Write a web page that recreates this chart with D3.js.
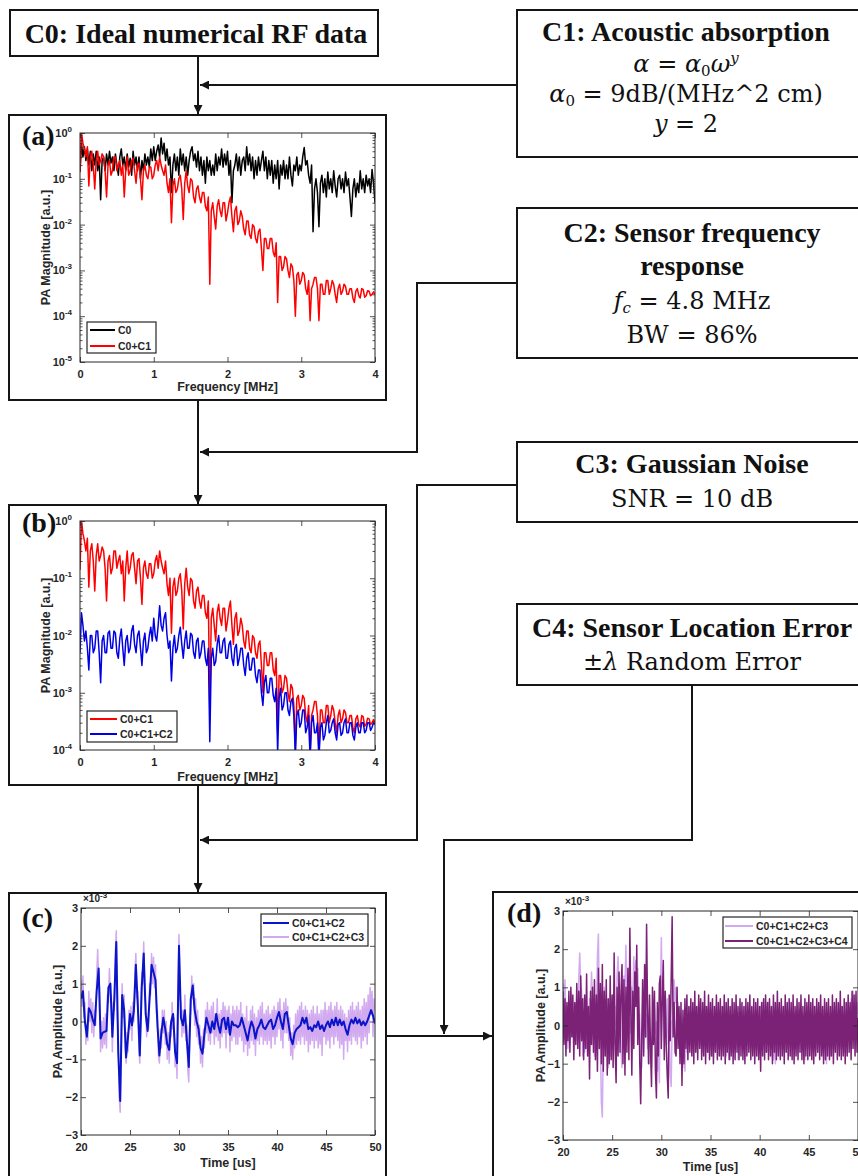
<!DOCTYPE html>
<html>
<head>
<meta charset="utf-8">
<script src="https://cdn.jsdelivr.net/npm/d3@7"></script>
<style>
  body { margin: 0; background: #fff; }
  svg { display: block; }
  .serif { font-family: "Liberation Serif", "Times New Roman", serif; font-size: 28px; fill: #111; }
  .math { font-family: "DejaVu Serif", serif; font-size: 24px; fill: #111; }
  .plot-text { font-family: "Liberation Sans", Arial, sans-serif; font-weight: bold; fill: #262626; }
  .tick text { font-family: "Liberation Sans", Arial, sans-serif; font-weight: bold; font-size: 11px; fill: #262626; }
  .tick line { stroke: #262626; stroke-width: 0.8; }
</style>
</head>
<body>
<svg id="fig" width="858" height="1176"></svg>
<script>
"use strict";

// spectra, 0 to 4 MHz, one sample every 0.02 MHz
const freqStep = 0.02;

const specC0 = [
  0.14, 0.6, 0.3, 0.5, 0.25, 0.45, 0.2, 0.4, 0.15, 0.35,
  0.2, 0.4, 0.15, 0.3, 0.035, 0.25, 0.3, 0.15, 0.35, 0.2,
  0.4, 0.22, 0.3, 0.15, 0.35, 0.2, 0.12, 0.3, 0.45, 0.2,
  0.3, 0.15, 0.35, 0.18, 0.28, 0.12, 0.4, 0.2, 0.3, 0.15,
  0.3, 0.1, 0.25, 0.15, 0.35, 0.2, 0.3, 0.18, 0.45, 0.25,
  0.5, 0.25, 0.4, 0.55, 0.3, 0.78, 0.35, 0.6, 0.25, 0.45,
  0.2, 0.3, 0.05, 0.2, 0.35, 0.15, 0.3, 0.12, 0.45, 0.2,
  0.35, 0.15, 0.3, 0.12, 0.25, 0.4, 0.5, 0.25, 0.35, 0.18,
  0.4, 0.15, 0.3, 0.12, 0.25, 0.08, 0.3, 0.15, 0.25, 0.12,
  0.2, 0.12, 0.35, 0.15, 0.3, 0.2, 0.45, 0.18, 0.35, 0.2,
  0.4, 0.12, 0.25, 0.03, 0.15, 0.2, 0.35, 0.15, 0.3, 0.12,
  0.25, 0.3, 0.15, 0.5, 0.2, 0.35, 0.15, 0.3, 0.1, 0.25,
  0.12, 0.3, 0.15, 0.25, 0.4, 0.15, 0.3, 0.1, 0.25, 0.12,
  0.25, 0.08, 0.2, 0.1, 0.25, 0.06, 0.2, 0.12, 0.25, 0.1,
  0.2, 0.1, 0.3, 0.12, 0.07, 0.2, 0.15, 0.3, 0.12, 0.2,
  0.15, 0.3, 0.48, 0.2, 0.25, 0.12, 0.08, 0.2, 0.007, 0.06,
  0.1, 0.05, 0.009, 0.08, 0.12, 0.05, 0.1, 0.04, 0.14, 0.06,
  0.1, 0.05, 0.15, 0.07, 0.04, 0.1, 0.12, 0.06, 0.1, 0.05,
  0.14, 0.07, 0.1, 0.04, 0.015, 0.06, 0.1, 0.04, 0.08, 0.05,
  0.15, 0.06, 0.1, 0.05, 0.12, 0.07, 0.1, 0.05, 0.16, 0.08,
  0.03,
];

const specC0C1 = [
  0.14, 1.0, 0.6, 0.45, 0.3, 0.5, 0.07, 0.3, 0.4, 0.2,
  0.06, 0.25, 0.4, 0.2, 0.25, 0.35, 0.3, 0.15, 0.04, 0.2,
  0.25, 0.12, 0.15, 0.3, 0.3, 0.15, 0.2, 0.25, 0.12, 0.2,
  0.04, 0.15, 0.3, 0.12, 0.15, 0.25, 0.28, 0.15, 0.08, 0.2,
  0.22, 0.1, 0.035, 0.15, 0.2, 0.12, 0.1, 0.18, 0.18, 0.1,
  0.12, 0.2, 0.25, 0.15, 0.3, 0.2, 0.15, 0.12, 0.2, 0.08,
  0.05, 0.1, 0.011, 0.07, 0.1, 0.05, 0.06, 0.1, 0.12, 0.06,
  0.013, 0.08, 0.15, 0.07, 0.05, 0.1, 0.09, 0.04, 0.03, 0.06,
  0.07, 0.04, 0.03, 0.05, 0.05, 0.025, 0.02, 0.04, 0.0005, 0.02,
  0.03, 0.015, 0.008, 0.025, 0.035, 0.02, 0.015, 0.03, 0.03, 0.012,
  0.018, 0.03, 0.04, 0.015, 0.007, 0.02, 0.025, 0.01, 0.012, 0.02,
  0.015, 0.008, 0.006, 0.012, 0.012, 0.006, 0.005, 0.01, 0.009, 0.005,
  0.004, 0.007, 0.008, 0.003, 0.001, 0.005, 0.005, 0.003, 0.003, 0.005,
  0.005, 0.0025, 0.002, 0.004, 0.0002, 0.002, 0.002, 0.001, 0.0012, 0.002,
  0.0018, 0.001, 0.0007, 0.0014, 0.0012, 0.0006, 0.0001, 0.0008, 0.0009, 0.0005,
  0.0006, 0.0009, 0.0008, 0.0004, 0.0003, 0.0006, 0.00008, 0.0004, 0.0005, 0.0007,
  0.0007, 0.0004, 0.00008, 0.0005, 0.0005, 0.0003, 0.0003, 0.0006, 0.0006, 0.0003,
  0.0004, 0.0006, 0.0005, 0.0003, 0.0002, 0.0004, 0.0005, 0.0003, 0.00035, 0.0005,
  0.00045, 0.0003, 0.0003, 0.0004, 0.0004, 0.00025, 0.0002, 0.00035, 0.0004, 0.00028,
  0.00025, 0.0004, 0.00038, 0.00026, 0.00028, 0.00036, 0.00035, 0.00028, 0.0003, 0.00034,
  0.0003,
];

const specC0C1C2 = [
  0.005, 0.025, 0.015, 0.008, 0.012, 0.006, 0.0025, 0.01, 0.01, 0.005,
  0.006, 0.012, 0.012, 0.005, 0.0015, 0.008, 0.01, 0.005, 0.005, 0.011,
  0.012, 0.006, 0.006, 0.012, 0.011, 0.005, 0.004, 0.009, 0.013, 0.006,
  0.003, 0.008, 0.01, 0.005, 0.006, 0.012, 0.015, 0.007, 0.005, 0.01,
  0.012, 0.006, 0.003, 0.008, 0.011, 0.005, 0.006, 0.01, 0.014, 0.008,
  0.02, 0.01, 0.008, 0.015, 0.033, 0.015, 0.012, 0.02, 0.025, 0.01,
  0.006, 0.008, 0.0016, 0.006, 0.01, 0.005, 0.006, 0.01, 0.014, 0.007,
  0.004, 0.008, 0.012, 0.006, 0.006, 0.011, 0.01, 0.005, 0.004, 0.008,
  0.009, 0.004, 0.005, 0.008, 0.008, 0.004, 0.003, 0.006, 0.00014, 0.004,
  0.006, 0.003, 0.0035, 0.007, 0.01, 0.005, 0.005, 0.008, 0.009, 0.004,
  0.004, 0.007, 0.008, 0.004, 0.003, 0.006, 0.007, 0.003, 0.004, 0.006,
  0.006, 0.003, 0.002, 0.004, 0.005, 0.0025, 0.0025, 0.004, 0.004, 0.002,
  0.0015, 0.0025, 0.0025, 0.001, 0.0006, 0.0015, 0.002, 0.001, 0.001, 0.0018,
  0.0018, 0.0009, 0.0007, 0.0012, 0.00009, 0.0008, 0.0012, 0.0005, 0.0006, 0.001,
  0.001, 0.0005, 0.0004, 0.0007, 0.0008, 0.0004, 0.00008, 0.0004, 0.0005, 0.00025,
  0.0003, 0.0005, 0.0005, 0.0002, 0.00025, 0.0004, 0.00007, 0.0003, 0.0004, 0.0002,
  0.0002, 0.0003, 0.00007, 0.00025, 0.0003, 0.00015, 0.00018, 0.0003, 0.0004, 0.0002,
  0.00022, 0.0003, 0.00035, 0.0002, 0.00015, 0.00028, 0.0003, 0.00018, 0.0002, 0.0003,
  0.00035, 0.0002, 0.0002, 0.0003, 0.0003, 0.00018, 0.00015, 0.00025, 0.0003, 0.0002,
  0.0002, 0.0003, 0.0003, 0.0002, 0.00022, 0.0003, 0.0003, 0.00022, 0.00025, 0.0003,
  0.00028,
];

// time traces from 20 us, values in units of 1e-3
const timeStart = 20;
const cleanStep = 0.2; // us between samples of the filtered trace
const noisyStep = 0.1; // us between samples of the noisy traces

const sigC0C1C2 = [
  0.6, 0.8, 0.0, -0.4, 0.35, 0.25, 0.05, -0.1, 0.8, 1.4,
  -0.45, -0.3, -0.27, -0.25, 0.9, 1.0, -0.4, 0.6, 2.1, -0.8,
  -2.1, 0.7, 0.3, -0.95, -0.4, 0.2, -0.1, 0.3, 1.5, 0.4,
  -0.9, 0.9, 1.8, 0.2, -0.25, 0.6, 1.5, 1.3, 1.1, -0.1,
  -0.9, -0.3, 0.1, -0.2, -0.6, -0.75, 0.0, 0.2, -0.8, -1.1,
  2.0, 0.1, -0.1, 0.3, -0.5, -1.2, 0.6, 0.95, 0.3, 0.0,
  -0.2, -0.7, -0.85, -0.3, 0.1, -0.1, -0.3, 0.0, -0.2, 0.2,
  -0.1, -0.3, 0.05, 0.1, -0.2, 0.1, -0.35, 0.0, -0.1, -0.1,
  -0.15, -0.1, 0.1, -0.1, -0.3, -0.5, -0.2, 0.0, -0.15, -0.45,
  -0.2, -0.1, 0.05, -0.15, -0.2, -0.1, 0.0, 0.05, -0.2, -0.1,
  0.1, 0.25, 0.0, -0.2, 0.2, 0.25, -0.1, -0.45, -0.6, -0.3,
  -0.2, -0.15, -0.1, 0.1, -0.05, 0.1, -0.2, -0.15, -0.25, -0.1,
  -0.15, 0.0, -0.2, -0.1, -0.25, -0.1, 0.0, -0.15, 0.05, -0.1,
  0.1, -0.1, 0.05, -0.1, 0.0, -0.2, -0.35, -0.1, 0.05, -0.05,
  0.1, -0.05, 0.05, -0.1, 0.0, -0.1, 0.0, 0.15, 0.3, 0.15,
  -0.05,
];

const sigC0C1C2C3 = [
  1.1, 0.4, 1.2, 0.1, 0.5, -0.6, -0.1, -0.5, 0.8, 0.0,
  0.6, -0.3, 0.5, -0.4, 0.3, -0.1, 1.2, 1.9, 1.1, 0.9,
  -0.8, 0.0, -0.7, 0.1, -0.6, 0.2, -0.7, 0.7, 0.5, 1.4,
  0.7, 0.7, -0.8, 0.5, 0.3, 1.8, 2.4, 0.2, -0.4, -2.0,
  -2.4, -0.3, 1.0, 0.1, 0.7, -0.7, -1.1, -0.3, -0.8, 0.3,
  -0.2, 0.4, -0.5, 0.5, 0.0, 1.3, 1.8, 0.6, 0.8, -0.7,
  -1.1, 0.4, 1.3, 1.0, 2.1, 0.7, 0.5, -0.4, 0.1, -0.2,
  1.0, 0.7, 1.8, 1.0, 1.7, 0.9, 1.5, 0.2, 0.3, -0.9,
  -1.1, -0.2, -0.7, 0.3, -0.3, 0.3, -0.6, 0.0, -1.0, -0.3,
  -1.1, -0.1, -0.4, 0.5, -0.2, 0.1, -1.2, -0.6, -1.5, 0.9,
  2.3, 0.6, 0.5, -0.4, 0.3, -0.3, 0.7, -0.5, -0.1, -1.3,
  -1.6, 0.1, 0.2, 1.2, 0.6, 1.0, -0.1, 0.6, -0.4, 0.3,
  -0.6, -0.1, -1.1, -0.4, -1.2, -0.2, -0.7, 0.3, -0.3, 0.5,
  -0.5, 0.3, -0.6, 0.4, -0.3, 0.5, -0.6, 0.2, -0.4, 0.6,
  -0.5, 0.2, -0.7, 0.3, -0.4, 0.5, -0.3, 0.4, -0.7, 0.3,
  -0.3, 0.4, -0.8, 0.2, -0.5, 0.4, -0.4, 0.3, -0.6, 0.4,
  -0.6, 0.3, -0.4, 0.5, -0.5, 0.2, -0.8, 0.1, -0.6, 0.4,
  -0.9, 0.0, -0.7, 0.3, -0.5, 0.4, -0.6, 0.2, -0.9, 0.1,
  -0.5, 0.3, -0.6, 0.4, -0.4, 0.5, -0.6, 0.2, -0.5, 0.3,
  -0.6, 0.4, -0.5, 0.2, -0.7, 0.3, -0.4, 0.4, -0.6, 0.3,
  -0.4, 0.5, -0.2, 0.6, -0.5, 0.3, -0.7, 0.5, -0.3, 0.6,
  -0.3, 0.4, -0.5, 0.1, -0.9, -0.3, -1.0, -0.1, -0.7, 0.2,
  -0.6, 0.3, -0.5, 0.4, -0.6, 0.5, -0.4, 0.3, -0.6, 0.4,
  -0.5, 0.3, -0.8, 0.2, -0.6, 0.3, -0.5, 0.4, -0.7, 0.2,
  -0.5, 0.4, -0.7, 0.2, -0.6, 0.3, -0.9, 0.3, -0.4, 0.5,
  -0.6, 0.3, -0.5, 0.4, -0.7, 0.5, -0.4, 0.3, -0.6, 0.4,
  -0.4, 0.5, -0.5, 0.3, -0.7, 0.4, -0.6, 0.3, -1.0, 0.2,
  -0.5, 0.1, -0.8, 0.3, -0.5, 0.4, -0.6, 0.5, -0.4, 0.3,
  -0.5, 0.4, -0.6, 0.5, -0.4, 0.3, -0.7, 0.4, -0.5, 0.6,
  -0.4, 0.5, -0.6, 0.7, -0.3, 0.9, 0.2, 0.8, -0.4, 0.6,
  0.3,
];

const sigC0C1C2C3C4 = [
  0.9, -0.5, 0.7, -0.8, 0.6, -0.4, 0.9, -0.7, 1.0, -0.3,
  0.8, -0.9, 0.6, -0.5, 1.1, -0.6, 0.9, -0.8, 1.3, -0.4,
  0.7, -0.9, 0.8, -0.6, 1.35, -0.8, 0.5, -1.4, 0.9, -0.5,
  1.0, -0.7, 1.2, -0.9, 0.8, -1.2, 1.5, -0.6, 1.1, -1.0,
  1.6, -1.2, 0.9, -0.8, 1.2, -1.3, 0.7, -1.0, 1.3, -0.9,
  0.8, -1.1, 1.9, -0.6, -1.5, 1.0, -0.8, 1.4, -0.7, 0.9,
  1.6, -1.0, 1.2, -1.3, 1.0, -0.7, 1.5, -0.9, 2.55, 0.3,
  -1.3, 0.9, -0.6, 1.4, 0.5, 2.1, -0.5, 1.0, -0.9, -2.05,
  -0.4, 1.2, -0.8, 1.6, -0.3, 2.65, 0.4, -1.0, 0.8, -0.6,
  -1.6, 1.0, -0.5, 0.9, -1.2, -1.9, 0.6, -0.8, 1.1, 1.3,
  -0.6, 0.7, 1.7, -0.9, 0.9, -0.5, -1.3, -1.9, 0.8, -0.4,
  1.2, 2.85, -0.3, 0.6, -0.7, -0.8, 1.0, -0.6, 0.5, -1.0,
  0.6, -1.57, 0.4, -1.0, 0.7, -0.6, 0.8, -0.9, 0.5, -0.7,
  0.7, -0.8, 0.6, -1.0, 0.9, -0.7, 0.5, -0.9, 0.8, -0.6,
  0.7, -0.9, 0.6, -0.8, 0.9, -1.0, 0.5, -0.7, 0.8, -0.9,
  0.6, -0.8, 0.7, -1.0, 0.5, -0.7, 0.8, -0.9, 0.6, -0.8,
  0.7, -0.9, 0.5, -0.8, 0.8, -1.0, 0.6, -0.7, 0.7, -0.9,
  0.5, -0.8, 0.7, -1.0, 0.6, -0.9, 0.8, -0.7, 0.5, -0.9,
  0.7, -0.8, 0.6, -0.9, 0.5, -1.0, 0.7, -0.8, 0.6, -0.7,
  0.8, -0.9, 0.5, -0.8, 0.7, -1.0, 0.6, -0.8, 0.7, -0.9,
  0.5, -1.2, 0.6, -0.8, 0.7, -0.9, 0.8, -0.7, 0.6, -0.9,
  0.7, -0.8, 0.5, -1.0, 0.8, -0.7, 0.6, -0.9, 0.9, -0.8,
  0.6, -0.9, 0.7, -0.8, 0.5, -1.0, 0.8, -0.7, 0.6, -0.9,
  0.7, -0.8, 0.6, -0.9, 0.8, -1.0, 0.5, -0.8, 0.7, -0.9,
  0.6, -0.7, 0.8, -0.9, 0.5, -1.0, 0.7, -0.8, 0.6, -0.9,
  0.8, -0.8, 0.6, -0.9, 0.7, -1.0, 0.5, -0.8, 0.7, -0.7,
  0.6, -0.9, 0.8, -0.8, 0.5, -1.0, 0.7, -0.9, 0.6, -0.8,
  0.7, -0.9, 0.5, -0.8, 0.8, -1.0, 0.6, -0.7, 0.7, -0.9,
  0.6, -0.8, 0.9, -0.9, 0.5, -0.8, 0.7, -1.0, 0.6, -0.8,
  0.8, -0.7, 0.6, -0.9, 0.9, -0.6, 0.8, -0.8, 0.9, -0.7,
  0.2,
];

const freqTicks = [0, 1, 2, 3, 4];
const timeTicks = [20, 25, 30, 35, 40, 45, 50];
const ampTicks = [-3, -2, -1, 0, 1, 2, 3];

const ink = "#151515";
const axisInk = "#262626";
const lightPurple = "#d2aaf0";

const svg = d3.select("#fig");
const defs = svg.append("defs");

// arrow head for the flow lines
defs
  .append("marker")
  .attr("id", "arrow")
  .attr("viewBox", "0 0 10 10")
  .attr("refX", 10)
  .attr("refY", 5)
  .attr("markerWidth", 10)
  .attr("markerHeight", 9)
  .attr("markerUnits", "userSpaceOnUse")
  .attr("orient", "auto")
  .append("path")
  .attr("d", "M0,0 L10,5 L0,10 z")
  .attr("fill", ink);

// the condition boxes with their text ("b" = bold title, the rest is math)
const boxes = [
  {
    rect: [10, 10, 368, 46],
    lines: [{ x: 196, y: 43, parts: [["C0: Ideal numerical RF data", "b"]] }],
  },
  {
    rect: [517, 10, 360, 147],
    lines: [
      { x: 686, y: 41, parts: [["C1: Acoustic absorption", "b"]] },
      { x: 686, y: 72, parts: [["α", "i"], [" = "], ["α", "i"], ["0", "sub"], ["ω", "i"], ["y", "isup"]] },
      { x: 686, y: 102, parts: [["α", "i"], ["0", "sub"], [" = 9dB/(MHz^2 cm)"]] },
      { x: 686, y: 132, parts: [["y", "i"], [" = 2"]] },
    ],
  },
  {
    rect: [517, 208, 360, 150],
    lines: [
      { x: 692, y: 242, parts: [["C2: Sensor frequency", "b"]] },
      { x: 692, y: 275, parts: [["response", "b"]] },
      { x: 692, y: 309, parts: [["f", "i"], ["c", "isub"], [" = 4.8 MHz"]] },
      { x: 692, y: 343, parts: [["BW = 86%"]] },
    ],
  },
  {
    rect: [517, 442, 360, 80],
    lines: [
      { x: 692, y: 473, parts: [["C3: Gaussian Noise", "b"]] },
      { x: 692, y: 507, parts: [["SNR = 10 dB"]] },
    ],
  },
  {
    rect: [517, 604, 360, 81],
    lines: [
      { x: 692, y: 637, parts: [["C4: Sensor Location Error", "b"]] },
      { x: 692, y: 670, parts: [["±"], ["λ", "i"], [" Random Error"]] },
    ],
  },
];

// flow lines between boxes and panels
const connectors = [
  [[198, 56], [198, 114]],
  [[517, 85], [200, 85]],
  [[198, 400], [198, 504]],
  [[517, 283], [417, 283], [417, 452], [200, 452]],
  [[198, 785], [198, 892]],
  [[517, 485], [417, 485], [417, 840], [200, 840]],
  [[692, 685], [692, 840], [444, 840], [444, 1034]],
  [[386, 1036], [492, 1036]],
];

function richText(x, y, parts) {
  const isTitle = parts[0][1] === "b";
  const t = svg
    .append("text")
    .attr("class", isTitle ? "serif" : "math")
    .attr("x", x)
    .attr("y", y)
    .attr("text-anchor", "middle");
  if (isTitle) t.attr("font-weight", "bold");
  let shift = 0;
  parts.forEach(([str, style = ""]) => {
    const s = t.append("tspan").text(str);
    let target = 0;
    if (style.includes("sub")) target = 4;
    if (style.includes("sup")) target = -9;
    if (target !== 0) s.attr("font-size", 15);
    if (target !== shift) {
      s.attr("dy", target - shift);
      shift = target;
    }
    if (style.startsWith("i")) s.attr("font-style", "italic");
  });
}

boxes.forEach((b) => {
  svg
    .append("rect")
    .attr("x", b.rect[0])
    .attr("y", b.rect[1])
    .attr("width", b.rect[2])
    .attr("height", b.rect[3])
    .attr("fill", "none")
    .attr("stroke", ink)
    .attr("stroke-width", 2);
  b.lines.forEach((l) => richText(l.x, l.y, l.parts));
});

connectors.forEach((pts) => {
  svg
    .append("path")
    .attr("d", d3.line()(pts))
    .attr("fill", "none")
    .attr("stroke", ink)
    .attr("stroke-width", 2)
    .attr("marker-end", "url(#arrow)");
});

// the four chart panels
const panels = [
  {
    id: "a",
    box: [9, 115, 377, 285],
    plot: [80, 133, 375, 362],
    tag: [22, 145],
    log: true,
    xDomain: [0, 4],
    yDomain: [1e-5, 1],
    xTicks: freqTicks,
    yPad: 8,
    xLabel: "Frequency [MHz]",
    xLabelY: 391,
    yLabel: "PA Magnitude [a.u.]",
    yLabelX: 50,
    series: [
      { name: "C0", data: specC0, start: 0, step: freqStep, color: "#000000" },
      { name: "C0+C1", data: specC0C1, start: 0, step: freqStep, color: "#ff0000" },
    ],
    legend: { x: 87, y: 322, w: 69, h: 31, rows: [330, 346], line: [90, 115], textX: 118, order: [0, 1] },
  },
  {
    id: "b",
    box: [9, 505, 377, 280],
    plot: [80, 521, 375, 750],
    tag: [22, 532],
    log: true,
    xDomain: [0, 4],
    yDomain: [1e-4, 1],
    xTicks: freqTicks,
    yPad: 8,
    xLabel: "Frequency [MHz]",
    xLabelY: 781,
    yLabel: "PA Magnitude [a.u.]",
    yLabelX: 50,
    series: [
      { name: "C0+C1", data: specC0C1, start: 0, step: freqStep, color: "#ff0000" },
      { name: "C0+C1+C2", data: specC0C1C2, start: 0, step: freqStep, color: "#0000e6" },
    ],
    legend: { x: 87, y: 711, w: 90, h: 31, rows: [719, 734], line: [90, 117], textX: 120, order: [0, 1] },
  },
  {
    id: "c",
    box: [9, 893, 377, 300],
    plot: [81, 908, 375, 1135],
    tag: [22, 927],
    log: false,
    xDomain: [20, 50],
    yDomain: [-3, 3],
    xTicks: timeTicks,
    yTicks: ampTicks,
    yPad: 3,
    xLabel: "Time [us]",
    xLabelY: 1167,
    yLabel: "PA Amplitude [a.u.]",
    yLabelX: 62,
    series: [
      { name: "C0+C1+C2+C3", data: sigC0C1C2C3, start: timeStart, step: noisyStep, color: lightPurple },
      { name: "C0+C1+C2", data: sigC0C1C2, start: timeStart, step: cleanStep, color: "#0a14c8", width: 2 },
    ],
    legend: { x: 261, y: 914, w: 107, h: 32, rows: [923, 937], line: [263, 289], textX: 292, order: [1, 0] },
  },
  {
    id: "d",
    box: [493, 892, 380, 300],
    plot: [563, 911, 858, 1140],
    tag: [507, 922],
    log: false,
    xDomain: [20, 50],
    yDomain: [-3, 3],
    xTicks: timeTicks,
    yTicks: ampTicks,
    yPad: 3,
    xLabel: "Time [us]",
    xLabelY: 1171,
    yLabel: "PA Amplitude [a.u.]",
    yLabelX: 545,
    series: [
      { name: "C0+C1+C2+C3", data: sigC0C1C2C3, start: timeStart, step: noisyStep, color: lightPurple },
      { name: "C0+C1+C2+C3+C4", data: sigC0C1C2C3C4, start: timeStart, step: noisyStep, color: "#7b2176" },
    ],
    legend: { x: 723, y: 917, w: 129, h: 31, rows: [926, 941], line: [725, 753], textX: 756, order: [0, 1] },
  },
];

function drawPanel(p) {
  const [x0, y0, x1, y1] = p.plot;
  const g = svg.append("g").attr("id", "panel-" + p.id);

  g.append("rect")
    .attr("x", p.box[0])
    .attr("y", p.box[1])
    .attr("width", p.box[2])
    .attr("height", p.box[3])
    .attr("fill", "none")
    .attr("stroke", ink)
    .attr("stroke-width", 2);

  const x = d3.scaleLinear().domain(p.xDomain).range([x0, x1]);
  const y = (p.log ? d3.scaleLog() : d3.scaleLinear()).domain(p.yDomain).range([y1, y0]);

  defs
    .append("clipPath")
    .attr("id", "clip-" + p.id)
    .append("rect")
    .attr("x", x0)
    .attr("y", y0)
    .attr("width", x1 - x0)
    .attr("height", y1 - y0);

  const lines = g.append("g").attr("clip-path", `url(#clip-${p.id})`);
  p.series.forEach((s) => {
    const line = d3
      .line()
      .x((d, i) => x(s.start + i * s.step))
      .y((d) => y(d));
    lines
      .append("path")
      .attr("d", line(s.data))
      .attr("fill", "none")
      .attr("stroke", s.color)
      .attr("stroke-width", s.width || 1.5)
      .attr("stroke-linejoin", "round");
  });

  // axes, MATLAB style: ticks pointing inwards on all four sides
  const noDomain = (sel) => sel.select(".domain").remove();
  const intFmt = d3.format("d");
  g.append("g")
    .attr("transform", `translate(0,${y1})`)
    .call(d3.axisBottom(x).tickValues(p.xTicks).tickFormat(intFmt).tickSizeInner(-5).tickSizeOuter(0).tickPadding(8))
    .call(noDomain);
  g.append("g")
    .attr("transform", `translate(0,${y0})`)
    .call(d3.axisTop(x).tickValues(p.xTicks).tickSizeInner(-5).tickSizeOuter(0).tickFormat(""))
    .call(noDomain);

  if (p.log) {
    const majors = y.ticks().filter((v) => Math.abs(Math.log10(v) % 1) < 1e-9);
    const minors = y.ticks().filter((v) => !majors.includes(v));
    const left = g
      .append("g")
      .attr("transform", `translate(${x0},0)`)
      .call(d3.axisLeft(y).tickValues(majors).tickSizeInner(-5).tickSizeOuter(0).tickPadding(p.yPad))
      .call(noDomain);
    left.selectAll(".tick text").each(function (d) {
      const t = d3.select(this).text(null);
      t.append("tspan").text("10");
      t.append("tspan").attr("dy", -5).attr("font-size", 8).text(Math.round(Math.log10(d)));
    });
    g.append("g")
      .attr("transform", `translate(${x0},0)`)
      .call(d3.axisLeft(y).tickValues(minors).tickSizeInner(-2.5).tickSizeOuter(0).tickFormat(""))
      .call(noDomain);
    g.append("g")
      .attr("transform", `translate(${x1},0)`)
      .call(d3.axisRight(y).tickValues(majors).tickSizeInner(-5).tickSizeOuter(0).tickFormat(""))
      .call(noDomain);
    g.append("g")
      .attr("transform", `translate(${x1},0)`)
      .call(d3.axisRight(y).tickValues(minors).tickSizeInner(-2.5).tickSizeOuter(0).tickFormat(""))
      .call(noDomain);
  } else {
    g.append("g")
      .attr("transform", `translate(${x0},0)`)
      .call(d3.axisLeft(y).tickValues(p.yTicks).tickFormat(intFmt).tickSizeInner(-5).tickSizeOuter(0).tickPadding(p.yPad))
      .call(noDomain);
    g.append("g")
      .attr("transform", `translate(${x1},0)`)
      .call(d3.axisRight(y).tickValues(p.yTicks).tickSizeInner(-5).tickSizeOuter(0).tickFormat(""))
      .call(noDomain);
    const mult = g
      .append("text")
      .attr("class", "plot-text")
      .attr("x", x0 + 2)
      .attr("y", y0 - 6)
      .attr("font-size", 10)
      .attr("font-weight", "normal");
    mult.append("tspan").text("×10");
    mult.append("tspan").attr("dy", -4).attr("font-size", 8).text("-3");
  }

  g.selectAll(".tick text").attr("fill", axisInk);

  g.append("rect")
    .attr("x", x0)
    .attr("y", y0)
    .attr("width", x1 - x0)
    .attr("height", y1 - y0)
    .attr("fill", "none")
    .attr("stroke", axisInk)
    .attr("stroke-width", 1);

  g.append("text")
    .attr("class", "plot-text")
    .attr("x", (x0 + x1) / 2)
    .attr("y", p.xLabelY)
    .attr("text-anchor", "middle")
    .attr("font-size", 12.5)
    .text(p.xLabel);

  g.append("text")
    .attr("class", "plot-text")
    .attr("transform", `translate(${p.yLabelX},${(y0 + y1) / 2}) rotate(-90)`)
    .attr("text-anchor", "middle")
    .attr("font-size", 12.5)
    .text(p.yLabel);

  // legend
  const lg = p.legend;
  g.append("rect")
    .attr("x", lg.x)
    .attr("y", lg.y)
    .attr("width", lg.w)
    .attr("height", lg.h)
    .attr("fill", "#fff")
    .attr("stroke", axisInk)
    .attr("stroke-width", 1.2);
  lg.order.forEach((si, k) => {
    const s = p.series[si];
    g.append("line")
      .attr("x1", lg.line[0])
      .attr("x2", lg.line[1])
      .attr("y1", lg.rows[k])
      .attr("y2", lg.rows[k])
      .attr("stroke", s.color)
      .attr("stroke-width", 2);
    g.append("text")
      .attr("class", "plot-text")
      .attr("x", lg.textX)
      .attr("y", lg.rows[k] + 3.5)
      .attr("font-size", 10.5)
      .text(s.name);
  });

  g.append("text")
    .attr("class", "serif")
    .attr("x", p.tag[0])
    .attr("y", p.tag[1])
    .attr("font-weight", "bold")
    .attr("font-size", 27)
    .text(`(${p.id})`);
}

panels.forEach(drawPanel);
</script>
</body>
</html>
